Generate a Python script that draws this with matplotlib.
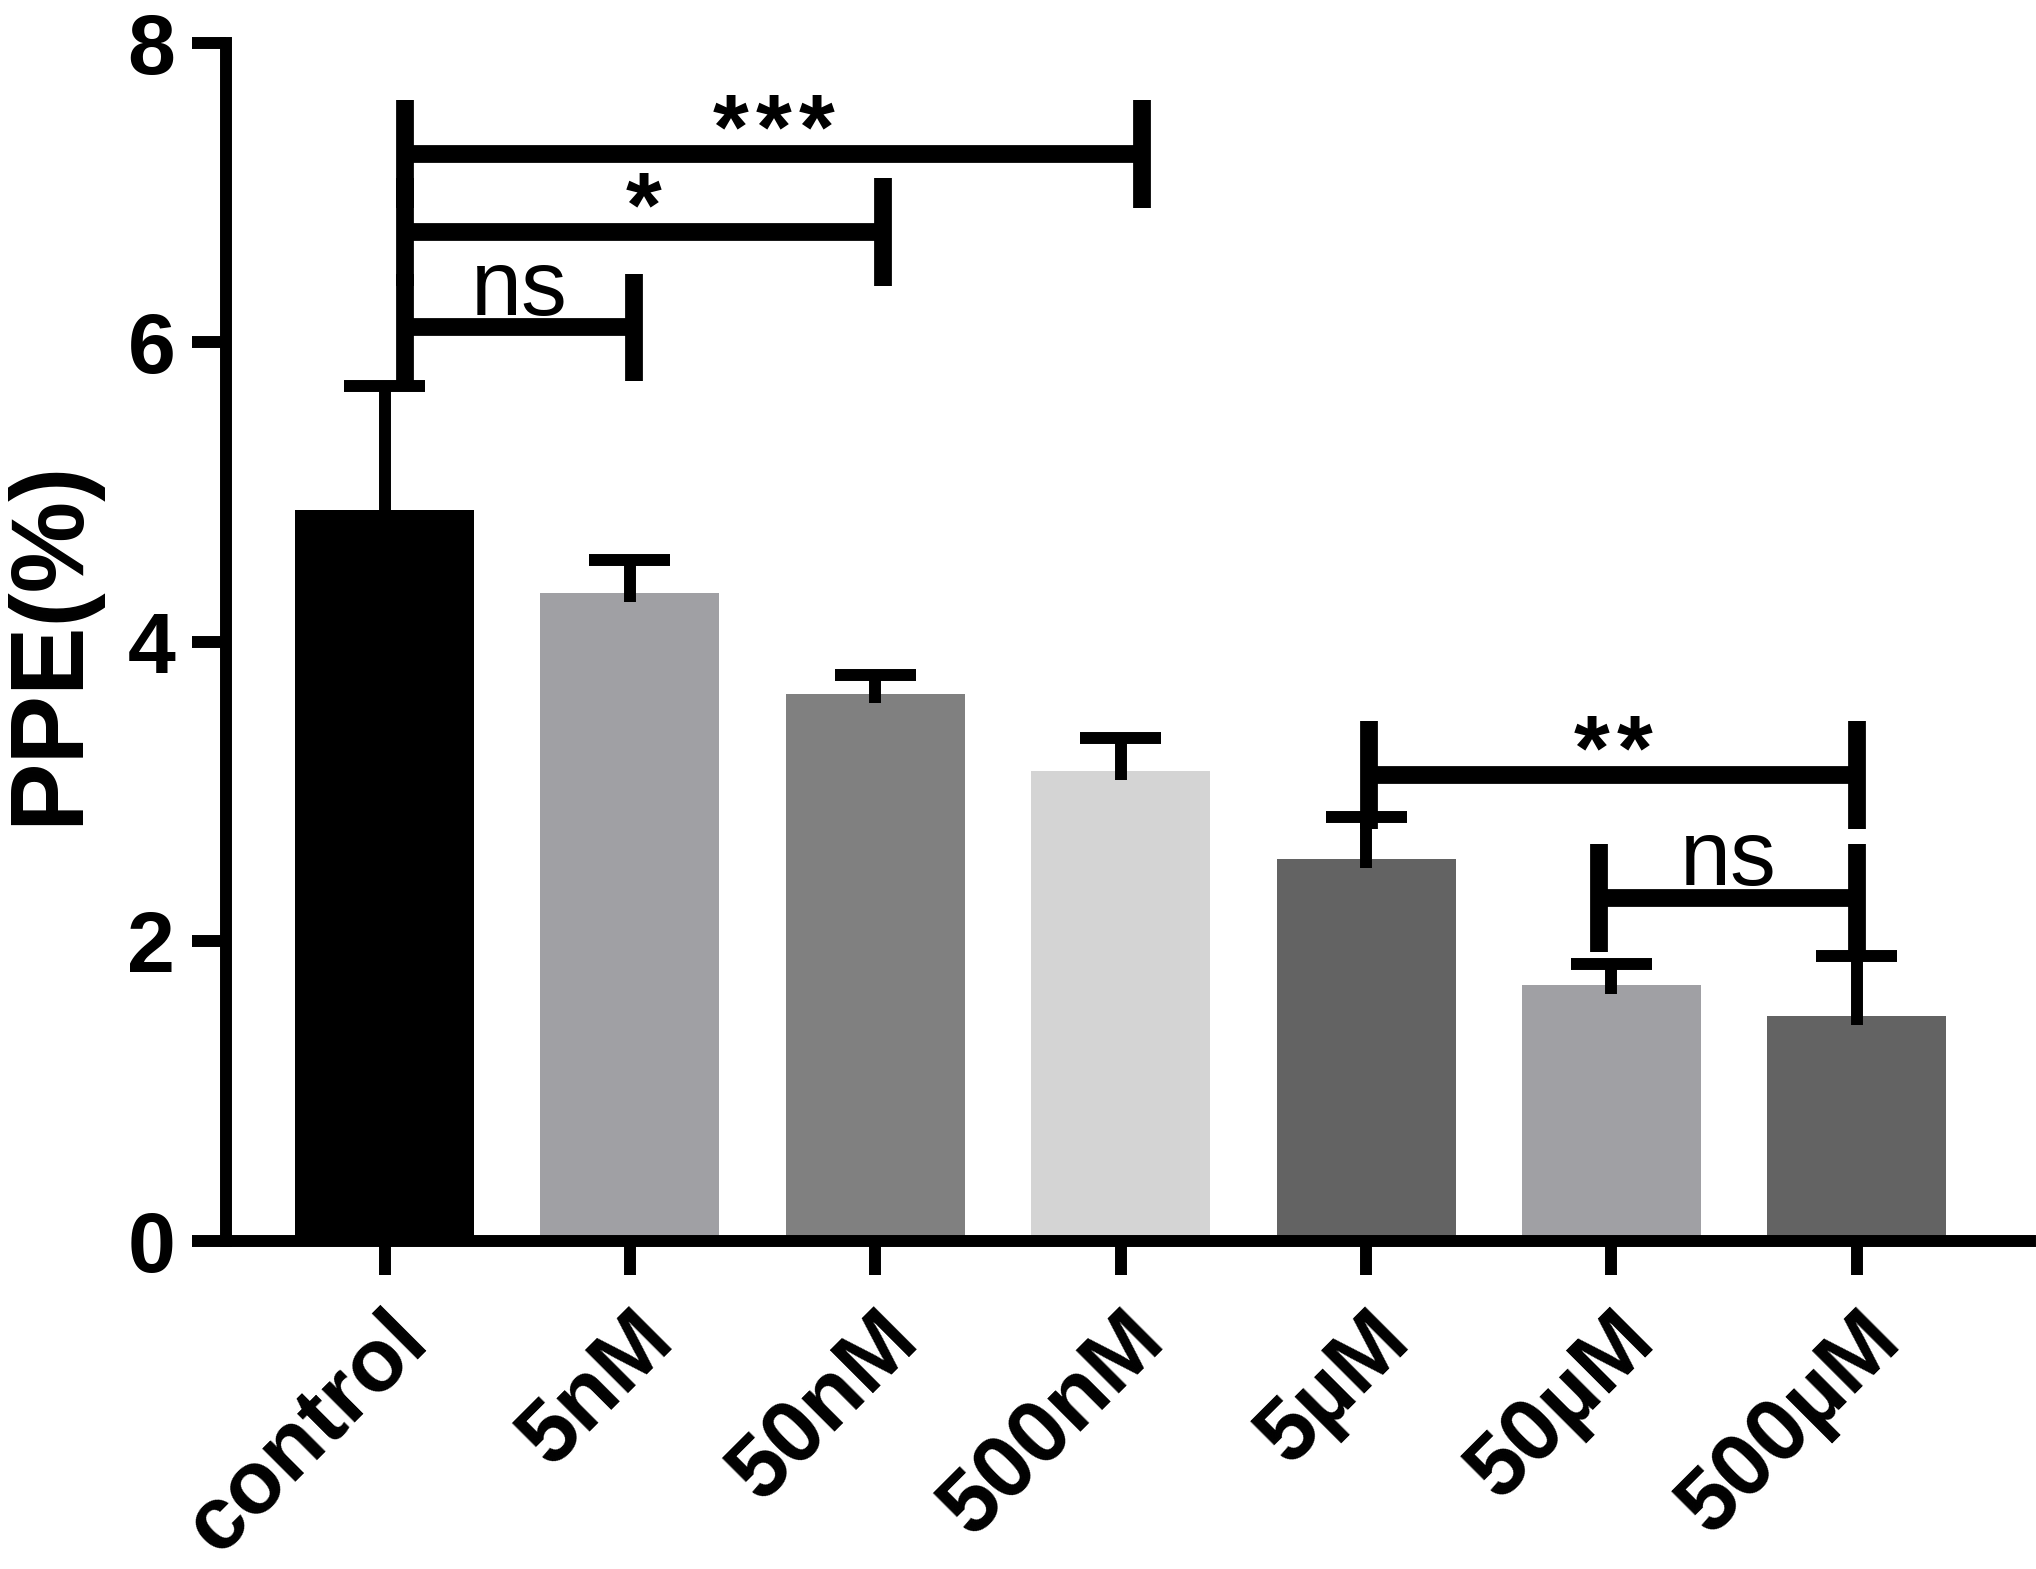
import matplotlib
matplotlib.use('Agg')
import matplotlib.pyplot as plt
from matplotlib.transforms import ScaledTranslation

plt.rcParams['font.family'] = ['Liberation Sans', 'DejaVu Sans']

# ---- data ----
categories = ['control', '5nM', '50nM', '500nM', '5µM', '50µM', '500µM']
means = [4.88, 4.33, 3.65, 3.14, 2.55, 1.71, 1.50]
sd = [0.83, 0.22, 0.13, 0.22, 0.28, 0.14, 0.40]
colors = ['#000000', '#a0a0a4', '#808080', '#d4d4d4', '#636363', '#a0a0a4', '#636363']
yticks = [0, 2, 4, 6, 8]

# significance brackets: (group a, group b, height, label)
brackets = [(0, 3, 7.26, '***'), (0, 2, 6.74, '*'), (0, 1, 6.10, 'ns'),
            (4, 6, 3.11, '**'), (5, 6, 2.29, 'ns')]
bracket_shift = [(0.085, 0.085), (0.085, 0.03), (0.085, 0.016), (0.01, 0.0), (-0.05, 0.0)]
bracket_end = 0.36

fig = plt.figure(figsize=(10.18, 7.845), dpi=200)
ax = fig.add_axes([0.1110, 0.2091, 0.997 - 0.1110, 0.9726 - 0.2091])

x = list(range(len(categories)))
ax.bar(x, means, width=0.73, color=colors, zorder=2)

# error bars (upper only, with cap)
for xi, m, s in zip(x, means, sd):
    ax.plot([xi, xi], [m - 0.06, m + s], color='black', lw=4.3, solid_capstyle='butt', zorder=3)
    ax.plot([xi - 0.165, xi + 0.165], [m + s, m + s], color='black', lw=4.3,
            solid_capstyle='butt', zorder=3)

# brackets
star_gap = 15.5  # points between asterisk centres
for (a, b, h, lab), (da, db) in zip(brackets, bracket_shift):
    xa, xb = a + da, b + db
    ax.plot([xa, xb], [h, h], color='black', lw=6.4, solid_capstyle='butt', zorder=4)
    for xe in (xa, xb):
        ax.plot([xe, xe], [h - bracket_end, h + bracket_end], color='black', lw=6.4,
                solid_capstyle='butt', zorder=4)
    cx = (xa + xb) / 2
    if lab == 'ns':
        ax.text(cx, h + 0.085, lab, ha='center', va='baseline', fontsize=33, zorder=5)
    else:
        n = len(lab)
        for k in range(n):
            ax.annotate('*', xy=(cx, h - 0.03), xytext=((k - (n - 1) / 2) * star_gap, 0),
                        textcoords='offset points', ha='center', va='baseline',
                        fontsize=33, fontweight='bold', zorder=5)

ax.set_xlim(-0.646, 6.705)
ax.set_ylim(0, 8)
ax.set_yticks(yticks)
ax.set_yticklabels([str(t) for t in yticks], fontsize=31, fontweight='bold')
ax.set_xticks(x)
ax.set_xticklabels(categories, rotation=45, ha='right', va='top', rotation_mode='anchor',
                   fontsize=32, fontweight='bold')
off = ScaledTranslation(0.08, 0, fig.dpi_scale_trans)
for lab in ax.get_xticklabels():
    lab.set_transform(lab.get_transform() + off)

ax.tick_params(axis='y', length=12.2, width=4.3, pad=6)
ax.tick_params(axis='x', length=12.2, width=4.3, pad=8)
for s in ('top', 'right'):
    ax.spines[s].set_visible(False)
for s in ('left', 'bottom'):
    ax.spines[s].set_linewidth(4.3)

ax.set_ylabel('PPE(%)', fontsize=37, fontweight='bold', va='center')
ax.yaxis.set_label_coords(-0.097, 0.5)

fig.savefig('out.png', dpi=200)
